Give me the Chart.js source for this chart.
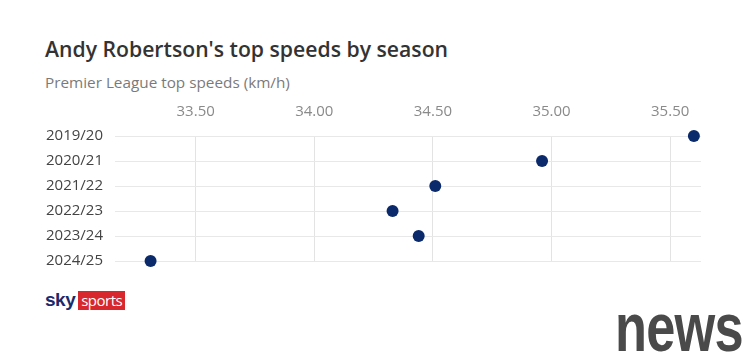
<!DOCTYPE html>
<html>
<head>
<meta charset="utf-8">
<script src="https://cdn.jsdelivr.net/npm/chart.js@4"></script>
<style>
html, body { margin: 0; padding: 0; background: #fff; }
body { width: 750px; height: 354px; position: relative; overflow: hidden; font-family: "Open Sans", "Noto Sans", sans-serif; }
#title { position: absolute; left: 45px; top: 34px; font-size: 21.2px; font-weight: 600; color: #333; white-space: nowrap; }
#sub { position: absolute; left: 45px; top: 72px; font-size: 15.3px; color: #7a7a7a; white-space: nowrap; }
#wrap { position: absolute; left: 0; top: 95px; width: 750px; height: 187px; }
#logo { position: absolute; left: 45px; top: 290px; height: 20px; display: flex; align-items: center; }
#logo .sky { font-family: "Liberation Sans", sans-serif; font-weight: 700; font-size: 19px; color: #1b2a6b; letter-spacing: -0.5px; margin-right: 3px; }
#logo .sp { background: #d8272d; color: #fff; font-size: 15px; padding: 0 3px; line-height: 19px; letter-spacing: -0.5px; }
#news { position: absolute; left: 615px; top: 288px; font-family: "Liberation Sans", sans-serif; font-weight: 700; font-size: 68px; color: #4a4a4a; transform: scaleX(0.77); transform-origin: left top; letter-spacing: -1px; }
</style>
</head>
<body>
<div id="title">Andy Robertson's top speeds by season</div>
<div id="sub">Premier League top speeds (km/h)</div>
<div id="wrap"><canvas id="c"></canvas></div>
<div id="logo"><span class="sky">sky</span><span class="sp">sports</span></div>
<div id="news">news</div>
<script>
var seasons = ["2019/20", "2020/21", "2021/22", "2022/23", "2023/24", "2024/25"];
var speeds = [35.60, 34.96, 34.51, 34.33, 34.44, 33.31];
var xMin = 33.16, xMax = 35.63, xStep = 0.5;

new Chart(document.getElementById("c"), {
    type: "line",
    data: {
        labels: seasons,
        datasets: [{
            data: speeds,
            showLine: false,
            pointRadius: 6,
            pointHoverRadius: 6,
            pointBackgroundColor: "#0b2a6b",
            pointBorderWidth: 0,
            clip: false
        }]
    },
    options: {
        indexAxis: "y",
        responsive: true,
        maintainAspectRatio: false,
        animation: false,
        layout: { padding: { left: 0, right: 49, top: 0, bottom: 14 } },
        plugins: { legend: { display: false }, tooltip: { enabled: false } },
        scales: {
            x: {
                type: "linear",
                position: "top",
                min: xMin,
                max: xMax,
                grid: { color: "#e3e3e3", drawTicks: false },
                border: { display: false },
                ticks: {
                    stepSize: xStep,
                    includeBounds: false,
                    padding: 15,
                    color: "#8a8a8a",
                    font: { family: "Open Sans", size: 15 },
                    callback: function (v) { return v.toFixed(2); }
                },
                afterFit: function (s) { s.height = 41; }
            },
            y: {
                type: "category",
                offset: false,
                grid: { color: "#e8e8e8", drawTicks: false },
                border: { display: false },
                ticks: {
                    padding: 12,
                    color: "#444",
                    font: { family: "Open Sans", size: 15 }
                },
                afterFit: function (s) { s.width = 115; }
            }
        }
    }
});
</script>
</body>
</html>
